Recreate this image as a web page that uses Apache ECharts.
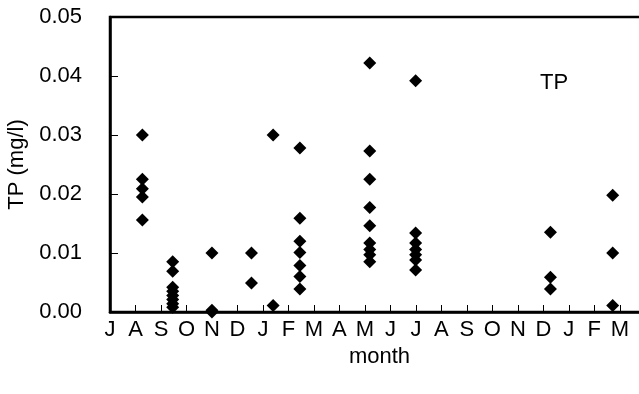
<!DOCTYPE html>
<html>
<head>
<meta charset="utf-8">
<script src="https://cdn.jsdelivr.net/npm/echarts@6/dist/echarts.min.js"></script>
<style>
html,body{margin:0;padding:0;background:#fff;}
#chart{width:639px;height:394px;}
</style>
</head>
<body>
<div id="chart"></div>
<script>
// Month tick labels (one per month, starting July)
var monthLabels = ['J','A','S','O','N','D','J','F','M','A','M','J','J','A','S','O','N','D','J','F','M'];

// Sampling positions (in months from the first July tick)
var samplePositions = [1.27, 2.46, 4.0, 5.55, 6.40, 7.45, 10.19, 11.99, 17.28, 19.72];

// TP values (mg/l) measured at each sampling position
var tpAug1  = [0.0300, 0.0225, 0.0209, 0.0195, 0.0156];
var tpSep1  = [0.0085, 0.0069, 0.0042, 0.0035, 0.0028, 0.0021, 0.0014, 0.0008];
var tpNov1  = [0.0100, 0.0003, 0.0000];
var tpDec1  = [0.0100, 0.0049];
var tpJan1  = [0.0300, 0.0011];
var tpFeb1  = [0.0278, 0.0159, 0.0120, 0.0101, 0.0079, 0.0060, 0.0039];
var tpMay1  = [0.0422, 0.0273, 0.0225, 0.0177, 0.0146, 0.0117, 0.0106, 0.0097, 0.0085];
var tpJul1  = [0.0392, 0.0134, 0.0117, 0.0106, 0.0097, 0.0088, 0.0071];
var tpDec2  = [0.0135, 0.0059, 0.0039];
var tpMar2  = [0.0198, 0.0100, 0.0011];

var tpGroups = [tpAug1, tpSep1, tpNov1, tpDec1, tpJan1, tpFeb1, tpMay1, tpJul1, tpDec2, tpMar2];

// Y-axis tick labels
var yTicks = [0.00, 0.01, 0.02, 0.03, 0.04, 0.05];

var points = [];
tpGroups.forEach(function (g, i) {
  g.forEach(function (v) { points.push([samplePositions[i], v]); });
});

var FONT = "'Liberation Sans Narrow', 'Arial Narrow', 'Liberation Sans', Arial, sans-serif";
var FS = 22;
var gridLeft = 110, gridRight = -10, monthPx = 25.49;
var xMax = (639 - gridLeft - gridRight) / monthPx;

var chart = echarts.init(document.getElementById('chart'), null, {renderer: 'canvas'});
chart.setOption({
  animation: false,
  textStyle: {fontFamily: FONT, color: '#000'},
  grid: {
    left: gridLeft, right: gridRight, top: 17, bottom: 82,
    show: true, borderColor: '#000', borderWidth: 2.5, backgroundColor: 'transparent',
    containLabel: false, outerBoundsMode: 'none'
  },
  xAxis: {
    type: 'value', min: 0, max: xMax, interval: 1,
    splitLine: {show: false},
    axisLine: {show: true, lineStyle: {color: '#000', width: 2.5}},
    axisTick: {show: true, inside: true, length: 7, lineStyle: {color: '#000', width: 1}},
    axisLabel: {
      show: true, margin: 7, fontSize: FS, color: '#000', fontFamily: FONT,
      showMinLabel: true, showMaxLabel: true, hideOverlap: false,
      formatter: function (v) {
        var r = Math.round(v);
        if (Math.abs(v - r) > 1e-6 || r < 0 || r >= monthLabels.length) return '';
        return monthLabels[r];
      }
    },
    name: 'month', nameLocation: 'middle', nameGap: 34,
    nameTextStyle: {fontSize: FS, color: '#000', fontFamily: FONT}
  },
  yAxis: {
    type: 'value', min: yTicks[0], max: yTicks[yTicks.length - 1], interval: 0.01,
    splitLine: {show: false},
    axisLine: {show: true, lineStyle: {color: '#000', width: 2.5}},
    axisTick: {show: true, inside: true, length: 8, lineStyle: {color: '#000', width: 1}},
    axisLabel: {
      margin: 28, fontSize: FS, color: '#000', fontFamily: FONT,
      formatter: function (v) { return v.toFixed(2); }
    },
    name: 'TP (mg/l)', nameLocation: 'middle', nameRotate: 90, nameGap: 82,
    nameTextStyle: {fontSize: FS, color: '#000', fontFamily: FONT}
  },
  graphic: [{
    type: 'text', x: 554, y: 83,
    style: {text: 'TP', font: FS + 'px ' + FONT, fill: '#000', textAlign: 'center', textVerticalAlign: 'middle'}
  }],
  series: [{
    type: 'scatter',
    symbol: 'diamond',
    symbolSize: 13,
    itemStyle: {color: '#000', opacity: 1},
    data: points
  }]
});
</script>
</body>
</html>
